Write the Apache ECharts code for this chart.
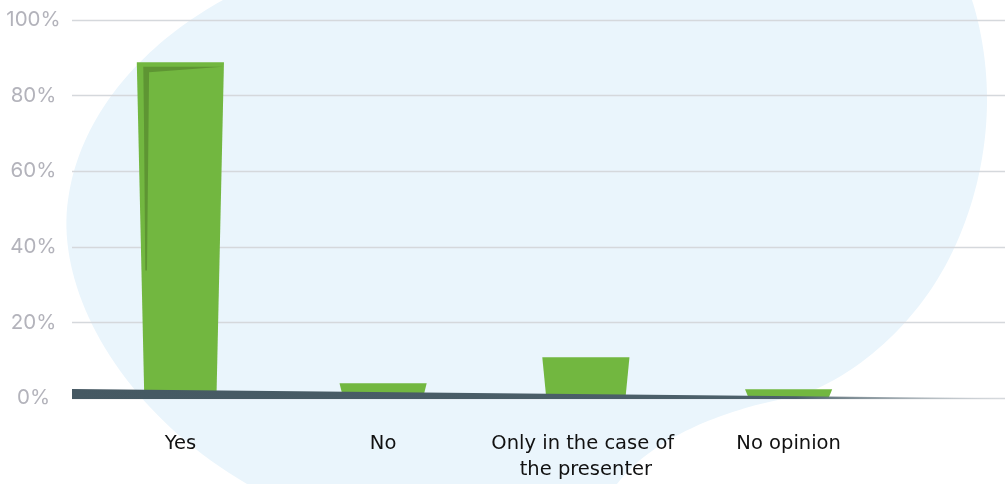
<!DOCTYPE html>
<html>
<head>
<meta charset="utf-8">
<script src="https://cdn.jsdelivr.net/npm/echarts@6/dist/echarts.min.js"></script>
<style>
  html, body { margin: 0; padding: 0; background: #ffffff; }
  #chart { width: 1005px; height: 484px; }
</style>
</head>
<body>
<div id="chart"></div>
<script>
// Survey answers and their shares (%)
const categories = ['Yes', 'No', 'Only in the case of the presenter', 'No opinion'];
const shares = [88.8, 3.9, 10.8, 2.3];
const yTicks = { min: 0, max: 100, interval: 20 };

const chart = echarts.init(document.getElementById('chart'), null, { renderer: 'canvas' });

const GREEN = '#72b740';
const GREEN_DARK = '#5e9533';

// Tapered bar, with a folded-corner shade on the tall ones
function renderBar(params, api) {
  const i = api.value(0);
  const top = api.coord([i, api.value(1)]);
  const base = api.coord([i, 0]);
  const cw = api.size([1, 0])[0];
  const half = cw * 0.215;
  const h = base[1] - top[1];
  const inset = 3.5 + h * 0.012;
  const cx = top[0];
  const L = cx - half, R = cx + half, T = top[1], B = base[1];
  const children = [{
    type: 'polygon',
    shape: { points: [[L, T], [R, T], [R - inset, B], [L + inset, B]] },
    style: { fill: GREEN }
  }];
  if (h > 200) {
    const tip = T + h * 0.62;
    children.push({
      type: 'polygon',
      shape: {
        points: [
          [L + 6.5, T + 4.4], [R - 1.5, T + 4.4], [L + 12.3, T + 10],
          [L + 10.2, tip], [L + 8.5, tip], [L + 7.2, T + 60]
        ]
      },
      style: { fill: GREEN_DARK }
    });
  }
  return { type: 'group', children };
}

// Slanted ground strip along the zero line, fading out to the right
function renderGround(params, api) {
  const cs = params.coordSys;
  const zero = cs.y + cs.height;
  const x0 = cs.x, x1 = cs.x + cs.width * 0.995;
  return {
    type: 'polygon',
    shape: { points: [[x0, zero - 9], [x1, zero + 0.2], [x1, zero + 1], [x0, zero + 1]] },
    style: {
      fill: new echarts.graphic.LinearGradient(0, 0, 1, 0, [
        { offset: 0, color: '#455862' },
        { offset: 0.78, color: '#4d616b' },
        { offset: 1, color: 'rgba(215,220,224,0.6)' }
      ])
    }
  };
}

// Soft background blob: outline as cubic segments [p0, c1, c2, p1]
const blobCurves = [
  [[223, 0], [150, 40], [80, 110], [68, 200]],
  [[68, 200], [55, 290], [120, 410], [247, 484]],
  [[247, 484], [260, 500], [600, 500], [617, 484]],
  [[617, 484], [650, 440], [720, 410], [793, 397]],
  [[793, 397], [840, 385], [900, 340], [937, 280]],
  [[937, 280], [965, 235], [987, 170], [987, 100]],
  [[987, 100], [987, 60], [980, 25], [972, 0]],
  [[972, 0], [972, -10], [223, -10], [223, 0]]
];

function sampleOutline(curves, steps) {
  const pts = [];
  curves.forEach(([p0, c1, c2, p1]) => {
    for (let s = 0; s < steps; s++) {
      const t = s / steps, u = 1 - t;
      const a = u * u * u, b = 3 * u * u * t, c = 3 * u * t * t, d = t * t * t;
      pts.push([
        a * p0[0] + b * c1[0] + c * c2[0] + d * p1[0],
        a * p0[1] + b * c1[1] + c * c2[1] + d * p1[1]
      ]);
    }
  });
  return pts;
}

chart.setOption({
  animation: false,
  graphic: [{
    type: 'polygon',
    z: -10,
    silent: true,
    shape: { points: sampleOutline(blobCurves, 40) },
    style: { fill: '#eaf5fc' }
  }],
  grid: [
    { left: 72, right: 0, top: 20, bottom: 86 },
    { left: 79, width: 811, top: 20, bottom: 86 }
  ],
  xAxis: [
    { gridIndex: 0, type: 'value', min: 0, max: 1, show: false },
    {
      gridIndex: 1,
      type: 'category',
      data: categories,
      axisLine: { show: false },
      axisTick: { show: false },
      axisLabel: {
        interval: 0,
        margin: 33,
        color: '#111111',
        fontFamily: 'DejaVu Sans',
        fontSize: 19.5,
        lineHeight: 26,
        width: 200,
        overflow: 'break'
      }
    }
  ],
  yAxis: [
    {
      gridIndex: 0,
      type: 'value',
      min: yTicks.min,
      max: yTicks.max,
      interval: yTicks.interval,
      axisLine: { show: false },
      axisTick: { show: false },
      axisLabel: {
        formatter: '{value}%',
        align: 'center',
        margin: 38.5,
        color: '#b3b3bb',
        fontFamily: 'Inter',
        fontSize: 20.5
      },
      splitLine: { lineStyle: { color: '#d5d8dc', width: 1.3 } }
    },
    { gridIndex: 1, type: 'value', min: yTicks.min, max: yTicks.max, show: false }
  ],
  series: [
    {
      type: 'custom',
      xAxisIndex: 1,
      yAxisIndex: 1,
      z: 2,
      renderItem: renderBar,
      data: shares.map((v, i) => [i, v])
    },
    {
      type: 'custom',
      xAxisIndex: 0,
      yAxisIndex: 0,
      z: 3,
      renderItem: renderGround,
      data: [[0, 0]]
    }
  ]
});
</script>
</body>
</html>
